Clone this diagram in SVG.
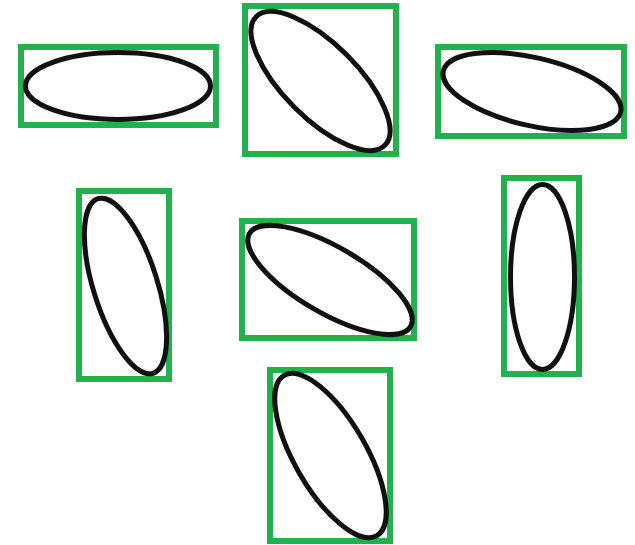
<svg xmlns="http://www.w3.org/2000/svg" width="635" height="545" viewBox="0 0 635 545">
<style>
.box{fill:none;stroke:#22b14c;stroke-width:6}
.ell{fill:#fff;stroke:#111;stroke-width:5}
</style>
<rect width="635" height="545" fill="#fff"/>
<g id="n1"><rect class="box" x="21" y="47" width="195" height="78"/><ellipse class="ell" cx="118" cy="86" rx="92.5" ry="33.5"/></g>
<g id="n2"><rect class="box" x="245" y="6" width="151" height="148"/><ellipse class="ell" cx="320.5" cy="81" rx="91" ry="37" transform="rotate(45 320.5 81)"/></g>
<g id="n3"><rect class="box" x="438" y="47" width="186" height="89"/><ellipse class="ell" cx="532" cy="91.5" rx="91" ry="34" transform="rotate(13 532 91.5)"/></g>
<g id="n4"><rect class="box" x="79" y="191" width="90" height="188"/><ellipse class="ell" cx="125.5" cy="286" rx="32" ry="91.5" transform="rotate(-17.5 125.5 286)"/></g>
<g id="n5"><rect class="box" x="242" y="221" width="172" height="117"/><ellipse class="ell" cx="330" cy="280" rx="93" ry="33" transform="rotate(30 330 280)"/></g>
<g id="n6"><rect class="box" x="504" y="178" width="75" height="196"/><ellipse class="ell" cx="542.5" cy="277" rx="32" ry="92.5"/></g>
<g id="n7"><rect class="box" x="270" y="370" width="120" height="171"/><ellipse class="ell" cx="330.5" cy="455.5" rx="35.8" ry="92.6" transform="rotate(-30 330.5 455.5)"/></g>
<g id="connectors"/>
</svg>
